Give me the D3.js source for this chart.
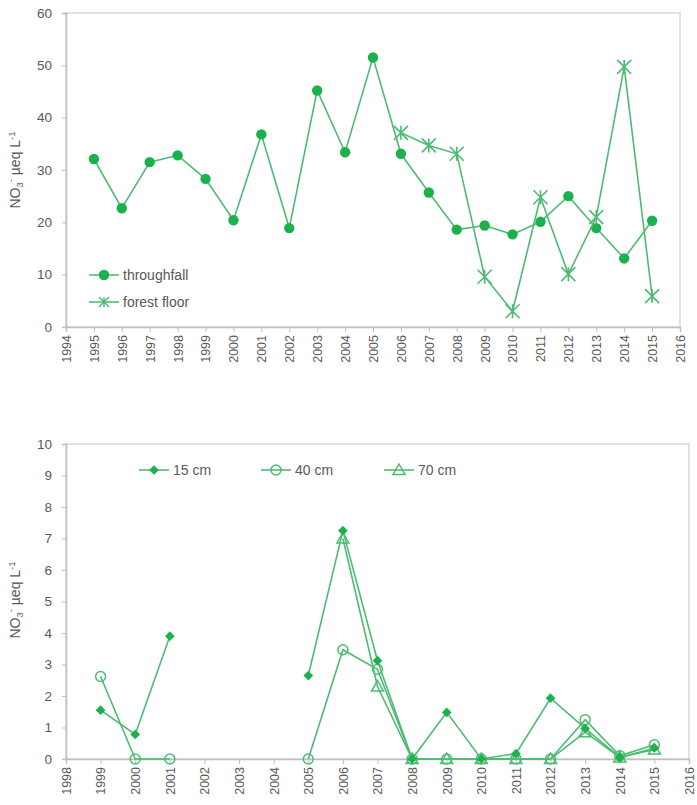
<!DOCTYPE html>
<html>
<head>
<meta charset="utf-8">
<script src="https://cdn.jsdelivr.net/npm/d3@7"></script>
<style>
  body { margin: 0; background: #fff; }
  text { font-family: "Liberation Sans", Arial, sans-serif; fill: #595959; }
</style>
</head>
<body>
<div id="chart"></div>
<script>
// top panel
const topYears = d3.range(1995, 2016);
const throughfall = [32.1, 22.7, 31.5, 32.8, 28.3, 20.4, 36.8, 18.9, 45.2, 33.4, 51.5,
                     33.1, 25.7, 18.6, 19.4, 17.7, 20.1, 25.0, 18.9, 13.1, 20.3];
const floorYears = d3.range(2006, 2016);
const forestFloor = [37.1, 34.7, 33.1, 9.6, 3.0, 24.8, 10.1, 21.0, 49.7, 5.9];

// bottom panel (null = no sample)
const soilYears = d3.range(1999, 2016);
const cm15 = [1.55, 0.78, 3.9, null, null, null, 2.65, 7.25, 3.12, 0, 1.48, 0, 0.17, 1.93, 0.97, 0.05, 0.35];
const cm40 = [2.62, 0, 0, null, null, null, 0, 3.47, 2.85, 0, 0, 0, 0, 0, 1.25, 0.1, 0.45];
const cm70 = [null, null, null, null, null, null, null, 7.0, 2.3, 0, 0, 0, 0, 0, 0.85, 0.05, 0.3];

const width = 697, height = 805;
const lineColor = "#4dbb74";
const markColor = "#1db14e";

const svg = d3.select("#chart").append("svg")
    .attr("width", width)
    .attr("height", height);

function panel(opt) {
    const x = d3.scaleLinear().domain(opt.xDomain).range([opt.left, opt.right]);
    const y = d3.scaleLinear().domain(opt.yDomain).range([opt.bottom, opt.top]);
    const g = svg.append("g");

    // frame
    g.append("rect")
        .attr("x", opt.left).attr("y", opt.top)
        .attr("width", opt.right - opt.left).attr("height", opt.bottom - opt.top)
        .attr("fill", "none").attr("stroke", "#d9d9d9").attr("stroke-width", 1.5);

    const yAxis = g.append("g")
        .attr("transform", `translate(${opt.left},0)`)
        .call(d3.axisLeft(y).tickValues(opt.yTicks).tickSize(4).tickPadding(10));
    yAxis.select(".domain").attr("stroke", "#bfbfbf").attr("stroke-width", 1.5);
    yAxis.selectAll(".tick line").attr("stroke", "#bfbfbf");
    yAxis.selectAll("text").style("font-size", "13.5px").attr("fill", "#595959");

    const xAxis = g.append("g")
        .attr("transform", `translate(0,${opt.bottom})`)
        .call(d3.axisBottom(x).tickValues(d3.range(opt.xDomain[0], opt.xDomain[1] + 1))
            .tickFormat(d3.format("d")).tickSize(5));
    xAxis.select(".domain").attr("stroke", "#bfbfbf").attr("stroke-width", 1.5);
    xAxis.selectAll(".tick line").attr("stroke", "#bfbfbf");
    xAxis.selectAll("text")
        .style("font-size", "12.5px").attr("fill", "#595959")
        .attr("transform", "rotate(-90)")
        .attr("x", -8).attr("y", 0).attr("dy", "0.35em")
        .attr("text-anchor", "end");

    // y label
    const lab = g.append("text")
        .attr("transform", `translate(${opt.labelX},${opt.labelY}) rotate(-90)`)
        .attr("text-anchor", "middle")
        .style("font-size", "14px");
    lab.append("tspan").text("NO");
    lab.append("tspan").attr("dy", 3).style("font-size", "9.5px").text("3");
    lab.append("tspan").attr("dy", -9).style("font-size", "9.5px").text("-");
    lab.append("tspan").attr("dy", 6).text(" µeq L");
    lab.append("tspan").attr("dy", -5).style("font-size", "9.5px").text("-1");

    return { x, y, g };
}

function drawSeries(p, years, vals, marker) {
    const pts = years.map((yr, i) => ({ yr, v: vals[i] }));
    const line = d3.line()
        .defined(d => d.v != null)
        .x(d => p.x(d.yr)).y(d => p.y(d.v));
    p.g.append("path")
        .datum(pts)
        .attr("fill", "none")
        .attr("stroke", lineColor)
        .attr("stroke-width", 1.6)
        .attr("d", line);
    pts.filter(d => d.v != null).forEach(d => marker(p.g, p.x(d.yr), p.y(d.v)));
}

const dot = (g, cx, cy) => g.append("circle").attr("cx", cx).attr("cy", cy).attr("r", 5.2).attr("fill", markColor);
const star = (g, cx, cy) => {
    const s = 7;
    g.append("path")
        .attr("d", `M${cx - s},${cy - s}L${cx + s},${cy + s}M${cx - s},${cy + s}L${cx + s},${cy - s}M${cx},${cy - s}L${cx},${cy + s}`)
        .attr("stroke", lineColor).attr("stroke-width", 1.6);
};
const diamond = (g, cx, cy) => g.append("path")
    .attr("d", d3.symbol(d3.symbolDiamond2, 60)())
    .attr("transform", `translate(${cx},${cy})`).attr("fill", markColor);
const ring = (g, cx, cy) => g.append("circle").attr("cx", cx).attr("cy", cy).attr("r", 5)
    .attr("fill", "white").attr("fill-opacity", 0).attr("stroke", lineColor).attr("stroke-width", 1.5);
const tri = (g, cx, cy) => g.append("path")
    .attr("d", `M${cx},${cy - 6}L${cx + 6},${cy + 4.5}L${cx - 6},${cy + 4.5}Z`)
    .attr("fill", "none").attr("stroke", lineColor).attr("stroke-width", 1.5);

function legendItem(g, x0, y0, marker, label) {
    g.append("line").attr("x1", x0).attr("x2", x0 + 30).attr("y1", y0).attr("y2", y0)
        .attr("stroke", lineColor).attr("stroke-width", 1.6);
    marker(g, x0 + 15, y0);
    g.append("text").attr("x", x0 + 34).attr("y", y0).attr("dy", "0.36em")
        .style("font-size", "14px").attr("fill", "#262626").text(label);
}

// top chart
const p1 = panel({
    xDomain: [1994, 2016], yDomain: [0, 60], yTicks: d3.range(0, 61, 10),
    left: 66, right: 680, top: 13, bottom: 327, labelX: 20, labelY: 170
});
drawSeries(p1, topYears, throughfall, dot);
drawSeries(p1, floorYears, forestFloor, star);
legendItem(p1.g, 89, 275, dot, "throughfall");
legendItem(p1.g, 89, 302, (g, cx, cy) => {
    const s = 5;
    g.append("path")
        .attr("d", `M${cx - s},${cy - s}L${cx + s},${cy + s}M${cx - s},${cy + s}L${cx + s},${cy - s}M${cx},${cy - s}L${cx},${cy + s}`)
        .attr("stroke", lineColor).attr("stroke-width", 1.4);
}, "forest floor");

// bottom chart
const p2 = panel({
    xDomain: [1998, 2016], yDomain: [0, 10], yTicks: d3.range(0, 11, 1),
    left: 66, right: 689, top: 444, bottom: 759, labelX: 20, labelY: 600
});
drawSeries(p2, soilYears, cm70, tri);
drawSeries(p2, soilYears, cm40, ring);
drawSeries(p2, soilYears, cm15, diamond);
legendItem(p2.g, 139, 470, diamond, "15 cm");
legendItem(p2.g, 261, 470, ring, "40 cm");
legendItem(p2.g, 384, 470, tri, "70 cm");
</script>
</body>
</html>
